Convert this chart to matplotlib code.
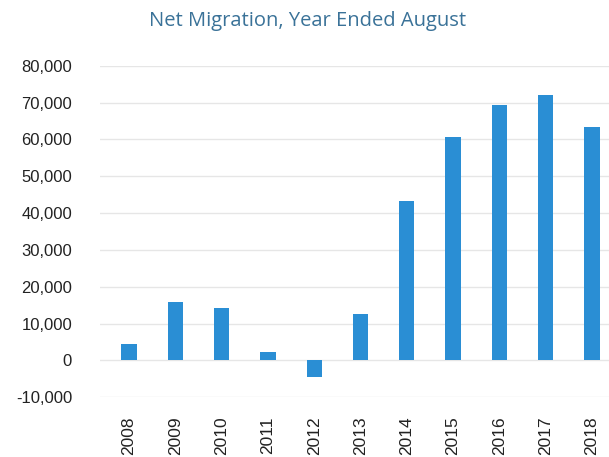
import matplotlib
matplotlib.use("Agg")
import matplotlib.pyplot as plt
from matplotlib.ticker import FuncFormatter

years = ["2008", "2009", "2010", "2011", "2012", "2013",
         "2014", "2015", "2016", "2017", "2018"]
net_migration = [4400, 15800, 14200, 2200, -4400, 12600,
                 43200, 60600, 69400, 72100, 63400]
y_ticks = [-10000, 0, 10000, 20000, 30000, 40000, 50000, 60000, 70000, 80000]

fig = plt.figure(figsize=(6.09, 4.57), dpi=100)
ax = fig.add_axes([0.164, 0.131, 0.836, 0.725])

x = range(len(years))
ax.bar(x, net_migration, width=0.33, color="#2a8ed4", zorder=3)

ax.set_xlim(-0.63, 10.37)
ax.set_ylim(-10000, 80000)
ax.set_yticks(y_ticks)
ax.yaxis.set_major_formatter(FuncFormatter(lambda v, p: f"{int(v):,}"))
ax.set_xticks(list(x))
ax.set_xticklabels(years, rotation=90)

ax.grid(axis="y", color="#e6e6e6", linewidth=1.0, zorder=0)
for s in ax.spines.values():
    s.set_visible(False)
ax.tick_params(axis="both", length=0, colors="#222222")
ax.tick_params(axis="y", pad=20, labelsize=12)
ax.tick_params(axis="x", pad=14, labelsize=12.5)
for lbl in ax.get_xticklabels() + ax.get_yticklabels():
    lbl.set_family(["Liberation Sans", "DejaVu Sans"])

fig.text(0.505, 0.953, "Net Migration, Year Ended August", ha="center", va="center",
         fontsize=14.5, color="#3a7298", family=["Open Sans", "DejaVu Sans"])

fig.savefig("out.png", dpi=100)
